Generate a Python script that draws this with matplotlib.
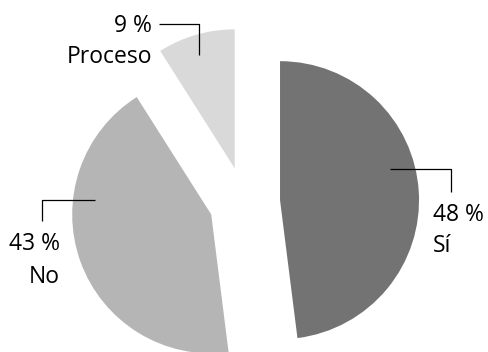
import matplotlib
matplotlib.use("Agg")
import matplotlib.pyplot as plt

# ---- data ----
categories = ["Sí", "No", "Proceso"]
values = [48, 43, 9]
pct_labels = ["48 %", "43 %", "9 %"]

# ---- style / layout ----
colors = ["#737373", "#b5b5b5", "#d9d9d9"]
W, H = 488, 352
R = 139
CENTER = (244.6, H - 202.4)
EXPLODE = [35.5, 35.5, 35.5]

plt.rcParams['font.family'] = ['Open Sans', 'DejaVu Sans']

fig = plt.figure(figsize=(W / 100, H / 100), dpi=100)
ax = fig.add_axes([0, 0, 1, 1])
ax.pie(values, colors=colors, startangle=90, counterclock=False,
       radius=R, center=CENTER, explode=EXPLODE,
       wedgeprops=dict(linewidth=0))
ax.set_xlim(0, W)
ax.set_ylim(0, H)
ax.set_aspect('auto')
ax.axis('off')

# label layout (pixel coords, y down): x, baseline1, baseline2, ha, leader line pts
label_layout = [
    (433, 221, 252, 'left', [(390, 169), (451, 169), (451, 192)]),
    (60, 250, 283, 'right', [(95, 200), (42, 200), (42, 221)]),
    (152, 32, 63, 'right', [(159, 24), (199, 24), (199, 55)]),
]

fs = 16.5
for cat, pct, (x, b1, b2, ha, pts) in zip(categories, pct_labels, label_layout):
    ax.text(x, H - b1, pct, ha=ha, va='baseline', fontsize=fs, color='#000000')
    ax.text(x, H - b2, cat, ha=ha, va='baseline', fontsize=fs, color='#000000')
    xs = [p[0] for p in pts]
    ys = [H - p[1] for p in pts]
    ax.plot(xs, ys, color='#000000', lw=0.9, solid_capstyle='butt')

fig.savefig("out.png", dpi=100)
